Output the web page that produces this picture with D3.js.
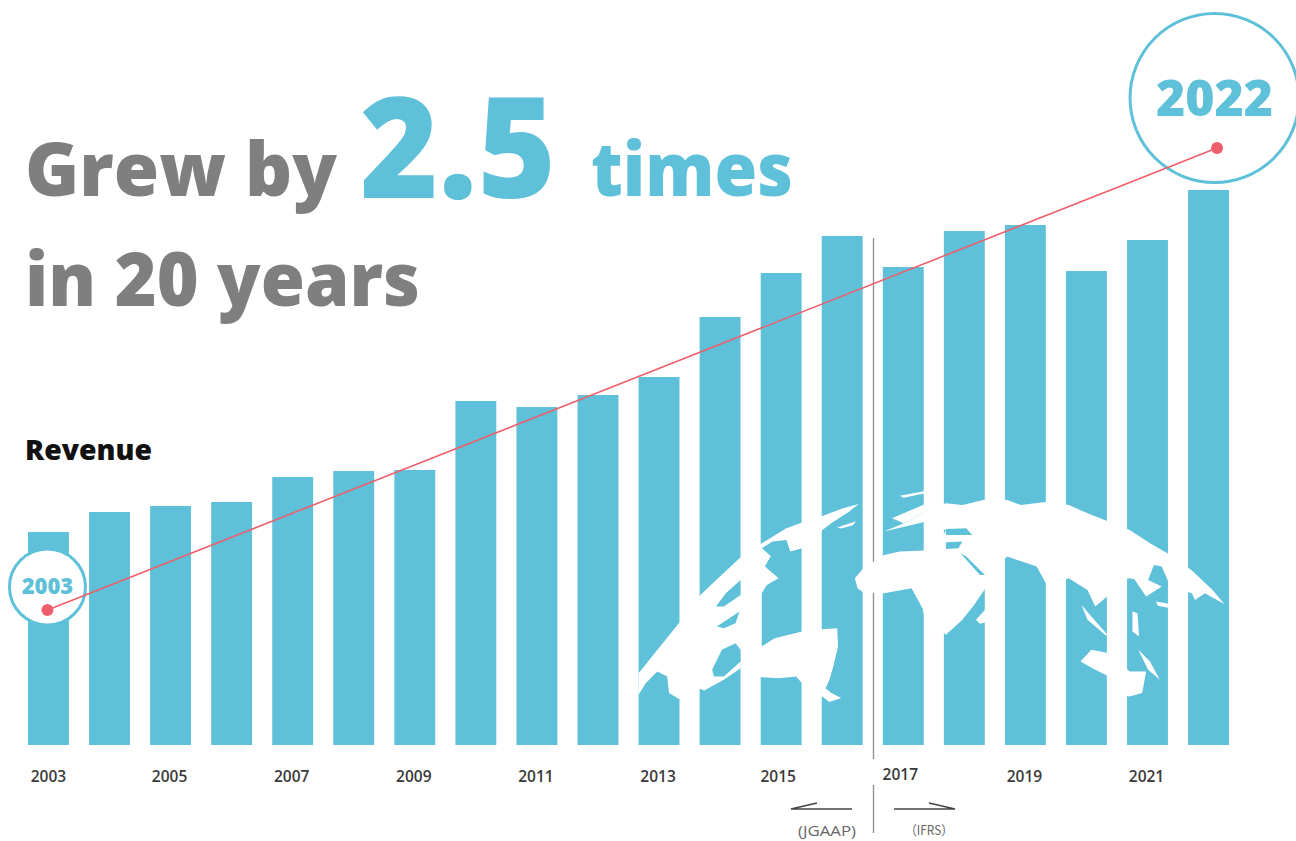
<!DOCTYPE html>
<html>
<head>
<meta charset="utf-8">
<script src="https://cdn.jsdelivr.net/npm/d3@7"></script>
<style>
  html, body { margin: 0; padding: 0; background: #fff; }
  svg { display: block; }
  text { font-family: "Open Sans", sans-serif; }
</style>
</head>
<body>
<svg width="1296" height="841"></svg>
<script>
/* Chart data */
var years = ['2003', '2004', '2005', '2006', '2007', '2008', '2009', '2010', '2011', '2012',
             '2013', '2014', '2015', '2016', '2017', '2018', '2019', '2020', '2021', '2022'];
var revenue = [213, 233, 239, 243, 268, 274, 275, 344, 338, 350,
               368, 428, 472, 509, 478, 514, 520, 474, 505, 555];
var tickYears = ['2003', '2005', '2007', '2009', '2011', '2013', '2015', '2017', '2019', '2021'];
var trendYears = ['2003', '2022'];
var trendValues = [135, 597];

/* Continents, in pixels of the zoomed map crop (x scale .391, y scale .333) */
var land = [
  // north america and the arctic arc
  'M22,645 L22,580 L60,525 L125,430 L180,345 L230,290 L283,232 L337,190 L400,145 L440,128 L492,108 L545,85 L585,72 L560,95 L520,125 L492,150 L440,205 L410,215 L400,180 L365,185 L337,205 L360,228 L345,260 L380,295 L350,315 L337,340 L337,500 L283,520 L283,565 L240,600 L190,632 L180,628 L125,658 L100,640 L95,590 L70,575 L40,610 Z',
  // south america
  'M283,520 L337,500 L370,475 L440,455 L490,448 L530,445 L532,500 L520,560 L510,600 L500,625 L515,640 L540,655 L510,667 L492,650 L440,610 L425,590 L380,595 L337,592 L283,565 Z',
  'M530,143 L578,124 L570,136 L540,146 Z',
  // eurasia and africa
  'M575,295 L597,265 L650,225 L690,215 L755,212 L755,172 L800,170 L808,150 L755,125 L650,155 L700,130 L755,95 L808,70 L850,75 L912,58 L965,60 L1000,75 L1068,65 L1122,75 L1170,100 L1225,125 L1278,150 L1330,190 L1382,225 L1437,272 L1490,330 L1520,372 L1470,340 L1445,360 L1437,340 L1382,320 L1360,260 L1340,255 L1325,300 L1360,320 L1320,350 L1290,298 L1278,295 L1255,300 L1225,345 L1190,380 L1170,330 L1122,295 L1068,320 L1040,260 L965,230 L912,285 L912,320 L880,375 L850,420 L808,465 L755,420 L748,385 L720,325 L650,340 L597,338 L582,325 Z',
  'M690,47 L755,33 L755,40 L700,53 Z',
  'M670,115 L700,100 L755,72 L755,95 L700,130 Z',
  'M1155,375 L1180,410 L1225,470 L1215,465 L1170,420 Z',
  // australia
  'M1152,545 L1180,510 L1225,520 L1278,575 L1320,575 L1310,640 L1278,650 L1222,640 L1225,590 L1190,570 Z',
  'M1285,395 L1298,400 L1302,470 L1285,455 Z',
  'M1300,510 L1330,545 L1355,600 L1325,570 Z',
  'M1345,365 L1382,372 L1382,385 L1350,378 Z',
  'M885,420 L908,390 L908,428 L895,432 Z'
];
var landHoles = [
  'M220,380 L245,340 L283,300 L283,345 L240,380 Z',
  'M222,440 L280,395 L270,430 L240,445 Z',
  'M210,570 L235,510 L270,490 L283,510 L283,545 L240,590 L215,590 Z',
  'M808,147 L860,145 L875,165 L808,165 Z',
  'M808,187 L850,185 L840,205 L808,207 Z',
  'M845,220 L860,230 L908,285 L895,285 Z'
];

var blue = '#5fc1d9', grey = '#7f7f7f', red = '#ee5f6c';

var svg = d3.select('svg');

var x = d3.scaleBand().domain(years).range([28, 1229]).paddingInner(0.33);
var y = d3.scaleLinear().domain([0, 555]).range([745, 190]);

/* Bars */
svg.append('g').selectAll('rect')
    .data(years)
    .join('rect')
    .attr('x', function(d) { return x(d); })
    .attr('y', function(d, i) { return y(revenue[i]); })
    .attr('width', x.bandwidth())
    .attr('height', function(d, i) { return y(0) - y(revenue[i]); })
    .style('fill', blue);

/* Accounting standard divider */
svg.append('line').attr('x1', 873.5).attr('x2', 873.5).attr('y1', 238).attr('y2', 759)
    .style('stroke', '#8c8c8c').style('stroke-width', 1.3);
svg.append('line').attr('x1', 873.5).attr('x2', 873.5).attr('y1', 785).attr('y2', 833)
    .style('stroke', '#8c8c8c').style('stroke-width', 1.3);

/* World map knocked out of the bars */
var map = svg.append('g').attr('transform', 'translate(630,480) scale(0.391,0.333)');
map.selectAll('path.land').data(land).join('path').attr('class', 'land')
    .attr('d', function(d) { return d; }).style('fill', '#fff');
map.selectAll('path.hole').data(landHoles).join('path').attr('class', 'hole')
    .attr('d', function(d) { return d; }).style('fill', blue);

/* Year axis */
var axis = svg.append('g').attr('transform', 'translate(0,769)')
    .call(d3.axisBottom(x).tickValues(tickYears).tickSize(0).tickPadding(3));
axis.select('.domain').remove();
axis.selectAll('text')
    .attr('dx', function(d) { return d == '2015' ? -3 : d == '2003' ? 0 : d == '2017' ? -3 : -1; })
    .attr('dy', function(d) { return d == '2017' ? '0.52em' : '0.65em'; })
    .style('font-size', '15.5px')
    .style('font-weight', 600)
    .style('fill', '#3a3a3a');

/* Headline */
svg.append('text').attr('x', 25).attr('y', 196).attr('textLength', 312).attr('lengthAdjust', 'spacingAndGlyphs')
    .text('Grew by').style('font-size', '74px').style('font-weight', 800).style('fill', grey);
svg.append('text').attr('x', 360).attr('y', 198).attr('textLength', 196).attr('lengthAdjust', 'spacingAndGlyphs')
    .text('2.5').style('font-size', '140px').style('font-weight', 800).style('fill', blue);
svg.append('text').attr('x', 591).attr('y', 196).attr('textLength', 202).attr('lengthAdjust', 'spacingAndGlyphs')
    .text('times').style('font-size', '74px').style('font-weight', 800).style('fill', blue);
svg.append('text').attr('x', 25).attr('y', 306).attr('textLength', 395).attr('lengthAdjust', 'spacingAndGlyphs')
    .text('in 20 years').style('font-size', '74px').style('font-weight', 800).style('fill', grey);
svg.append('text').attr('x', 25).attr('y', 460).attr('textLength', 127).attr('lengthAdjust', 'spacingAndGlyphs')
    .text('Revenue').style('font-size', '28px').style('font-weight', 800).style('fill', '#111');

/* Start and end circles */
var cx0 = x('2003') + x.bandwidth() / 2 - 1,
    cx1 = x('2022') + x.bandwidth() / 2 + 6;
svg.append('circle').attr('cx', cx0).attr('cy', 587).attr('r', 38)
    .style('fill', '#fff').style('stroke', blue).style('stroke-width', 3);
svg.append('circle').attr('cx', cx1).attr('cy', 98).attr('r', 84.5)
    .style('fill', '#fff').style('stroke', blue).style('stroke-width', 3);
svg.append('text').attr('x', cx0).attr('y', 594).attr('text-anchor', 'middle').text('2003')
    .style('font-size', '22px').style('font-weight', 800).style('fill', blue);
svg.append('text').attr('x', cx1).attr('y', 116).attr('text-anchor', 'middle').text('2022')
    .style('font-size', '50px').style('font-weight', 800).style('fill', blue);

/* Trend line */
var trendX = function(d) { return x(d) + x.bandwidth() / 2 + (d == '2022' ? 8.5 : -1); };
var trend = d3.line()
    .x(function(d) { return trendX(d); })
    .y(function(d, i) { return y(trendValues[i]); });
svg.append('path').attr('d', trend(trendYears))
    .style('fill', 'none').style('stroke', red).style('stroke-width', 1.6);
svg.selectAll('circle.dot').data(trendYears).join('circle').attr('class', 'dot')
    .attr('cx', function(d) { return trendX(d); })
    .attr('cy', function(d, i) { return y(trendValues[i]); })
    .attr('r', 6)
    .style('fill', red);

/* JGAAP / IFRS arrows */
var arrows = svg.append('g').style('fill', 'none').style('stroke', '#444').style('stroke-width', 1.5);
arrows.append('path').attr('d', 'M852,809 L791,809 L817,803');
arrows.append('path').attr('d', 'M894,809 L955,809 L929,803');
svg.append('text').attr('x', 827).attr('y', 836).attr('text-anchor', 'middle').attr('textLength', 58)
    .attr('lengthAdjust', 'spacingAndGlyphs').text('(JGAAP)')
    .style('font-size', '14px').style('fill', '#666');
svg.append('text').attr('x', 929).attr('y', 835).attr('text-anchor', 'middle').attr('textLength', 48)
    .attr('lengthAdjust', 'spacingAndGlyphs').text('（IFRS）')
    .style('font-family', '"Noto Sans CJK JP", sans-serif')
    .style('font-size', '13px').style('fill', '#666');
</script>
</body>
</html>
